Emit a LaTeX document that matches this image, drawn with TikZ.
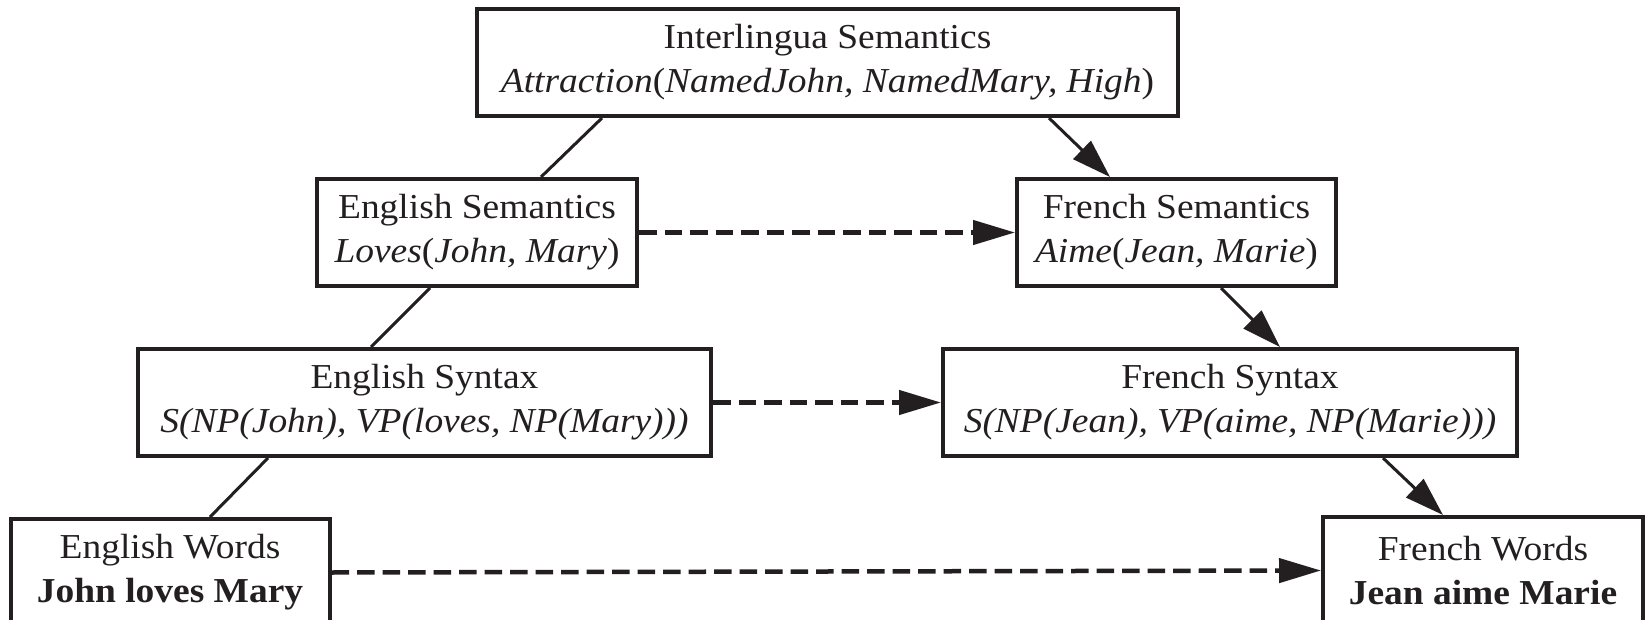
\documentclass[tikz,border=0pt]{standalone}
\usepackage{fontspec}
\setmainfont{Liberation Serif}[FakeStretch=1.07]
\usetikzlibrary{arrows.meta}
\definecolor{ink}{HTML}{231F20}
\begin{document}
\begin{tikzpicture}[x=1pt,y=-1pt,
  box/.style={draw=ink, line width=4pt, inner sep=0pt, minimum height=107pt,
    align=center, text=ink, font=\fontsize{35}{44}\selectfont},
  link/.style={draw=ink, line width=3pt},
  arr/.style={link, -{Triangle[length=39pt,width=25pt]}},
  xfer/.style={draw=ink, line width=4.5pt, dash pattern=on 17.5pt off 8pt,
    -{Triangle[length=42pt,width=24pt]}}]
\useasboundingbox (0,0) rectangle (1648,620);
\fill[white] (0,0) rectangle (1648,620);

% interlingua at the apex
\node[box, minimum width=701pt] (inter) at (827.5,62.5)
  {Interlingua Semantics\\ \textit{Attraction}(\textit{NamedJohn, NamedMary, High})};

% source side
\node[box, minimum width=320pt] (esem) at (477,232.5)
  {English Semantics\\ \textit{Loves}(\textit{John, Mary})};
\node[box, minimum width=573pt] (esyn) at (424.5,402.5)
  {English Syntax\\ \textit{S(NP(John), VP(loves, NP(Mary)))}};
\node[box, minimum width=319pt] (ewords) at (170,572.5)
  {English Words\\ \textbf{John loves Mary}};

% target side
\node[box, minimum width=319pt] (fsem) at (1176.5,232.5)
  {French Semantics\\ \textit{Aime}(\textit{Jean, Marie})};
\node[box, minimum width=574pt] (fsyn) at (1230,402.5)
  {French Syntax\\ \textit{S(NP(Jean), VP(aime, NP(Marie)))}};
\node[box, minimum width=320pt] (fwords) at (1483,570.5)
  {French Words\\ \textbf{Jean aime Marie}};

% analysis (up the left side)
\draw[link] ([xshift=-225.5pt]inter.south) -- ([xshift=64pt]esem.north);
\draw[link] ([xshift=-47pt]esem.south) -- ([xshift=-53.5pt]esyn.north);
\draw[link] ([xshift=-156.5pt]esyn.south) -- ([xshift=40pt]ewords.north);

% generation (down the right side)
\draw[arr] ([xshift=221.5pt]inter.south) -- ([xshift=-66.5pt]fsem.north);
\draw[arr] ([xshift=44.5pt]fsem.south) -- ([xshift=50pt]fsyn.north);
\draw[arr] ([xshift=153pt]fsyn.south) -- ([xshift=-40pt]fwords.north);

% direct transfer at each level
\draw[xfer] (esem.east) -- (fsem.west);
\draw[xfer] (esyn.east) -- (fsyn.west);
\draw[xfer] (ewords.east) -- (fwords.west);
\end{tikzpicture}
\end{document}
